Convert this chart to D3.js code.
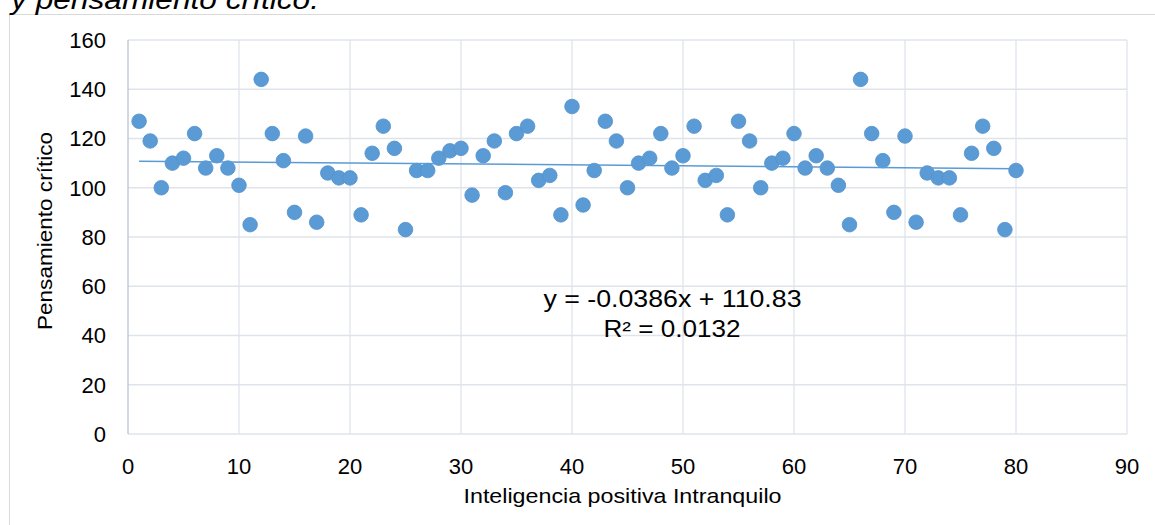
<!DOCTYPE html>
<html><head><meta charset="utf-8">
<script src="https://cdn.jsdelivr.net/npm/d3@7"></script>
<style>
html,body{margin:0;padding:0;background:#fff;}
svg{display:block;font-family:"Liberation Sans",Arial,sans-serif;}
</style></head>
<body><svg id="c" width="1155" height="525"></svg>
<script>
const xValues = d3.range(1, 81);
const yValues = [127,119,100,110,112,122,108,113,108,101,85,144,122,111,90,121,86,106,104,104,
  89,114,125,116,83,107,107,112,115,116,97,113,119,98,122,125,103,105,89,133,
  93,107,127,119,100,110,112,122,108,113,125,103,105,89,127,119,100,110,112,122,
  108,113,108,101,85,144,122,111,90,121,86,106,104,104,89,114,125,116,83,107];
const xTicks = [0,10,20,30,40,50,60,70,80,90];
const yTicks = [0,20,40,60,80,100,120,140,160];
const trendSlope = -0.0386, trendIntercept = 110.83;
const eqText = "y = -0.0386x + 110.83";
const r2Text = "R² = 0.0132";
const titleText = "y pensamiento crítico.";
const xTitle = "Inteligencia positiva Intranquilo";
const yTitle = "Pensamiento crítico";

const svg = d3.select("#c");
const x = d3.scaleLinear().domain([0,90]).range([128,1127]);
const y = d3.scaleLinear().domain([0,160]).range([434,40]);

// outer chart border
svg.append("path").attr("d","M9.5,525 V14.5 H1155").attr("fill","none").attr("stroke","#d9d9d9").attr("stroke-width",1);

// caption (cut off at the top, as in the source)
svg.append("text").attr("x",11).attr("y",9).attr("font-size",28).attr("font-style","italic")
  .attr("textLength",308).attr("lengthAdjust","spacingAndGlyphs")
  .attr("fill","#000").text(titleText);

// gridlines
svg.append("g").selectAll("line").data(yTicks.filter(d=>d>0)).join("line")
  .attr("x1",x(0)).attr("x2",x(90)).attr("y1",d=>y(d)).attr("y2",d=>y(d))
  .attr("stroke","#dfe3ea").attr("stroke-width",1.3);
svg.append("g").selectAll("line").data(xTicks.filter(d=>d>0)).join("line")
  .attr("x1",d=>x(d)).attr("x2",d=>x(d)).attr("y1",y(0)).attr("y2",y(160))
  .attr("stroke","#dfe3ea").attr("stroke-width",1.3);
svg.append("line").attr("x1",x(0)).attr("x2",x(90)).attr("y1",y(0)).attr("y2",y(0))
  .attr("stroke","#dfe3ea").attr("stroke-width",1.3);
svg.append("line").attr("x1",x(0)).attr("x2",x(0)).attr("y1",y(0)).attr("y2",y(160))
  .attr("stroke","#b9c3d3").attr("stroke-width",1.3);

// tick labels
svg.append("g").selectAll("text").data(yTicks).join("text")
  .attr("x",106).attr("y",d=>y(d)).attr("dy","0.36em").attr("text-anchor","end")
  .attr("font-size",22).attr("fill","#000").text(d=>d);
svg.append("g").selectAll("text").data(xTicks).join("text")
  .attr("x",d=>x(d)).attr("y",474).attr("text-anchor","middle")
  .attr("font-size",22).attr("fill","#000").text(d=>d);

// axis titles
svg.append("text").attr("x",622.5).attr("y",503).attr("text-anchor","middle")
  .attr("font-size",21).attr("textLength",318).attr("lengthAdjust","spacingAndGlyphs")
  .attr("fill","#000").text(xTitle);
svg.append("text").attr("transform","translate(52,231) rotate(-90)").attr("text-anchor","middle")
  .attr("font-size",21).attr("textLength",198).attr("lengthAdjust","spacingAndGlyphs")
  .attr("fill","#000").text(yTitle);

// points
const pts = xValues.map((v,i)=>({x:v,y:yValues[i]}));
svg.append("g").selectAll("circle").data(pts).join("circle")
  .attr("cx",d=>x(d.x)).attr("cy",d=>y(d.y)).attr("r",7.3)
  .attr("fill","#5b9bd5").attr("stroke","#5290cc").attr("stroke-width",0.8);

// trendline
svg.append("line")
  .attr("x1",x(1)).attr("y1",y(trendSlope*1+trendIntercept))
  .attr("x2",x(80)).attr("y2",y(trendSlope*80+trendIntercept))
  .attr("stroke","#5b9bd5").attr("stroke-width",1.5);

// equation
svg.append("text").attr("x",672.5).attr("y",307).attr("text-anchor","middle")
  .attr("font-size",23).attr("textLength",258).attr("lengthAdjust","spacingAndGlyphs")
  .attr("fill","#000").text(eqText);
svg.append("text").attr("x",672).attr("y",337).attr("text-anchor","middle")
  .attr("font-size",23).attr("textLength",137).attr("lengthAdjust","spacingAndGlyphs")
  .attr("fill","#000").text(r2Text);
</script></body></html>
